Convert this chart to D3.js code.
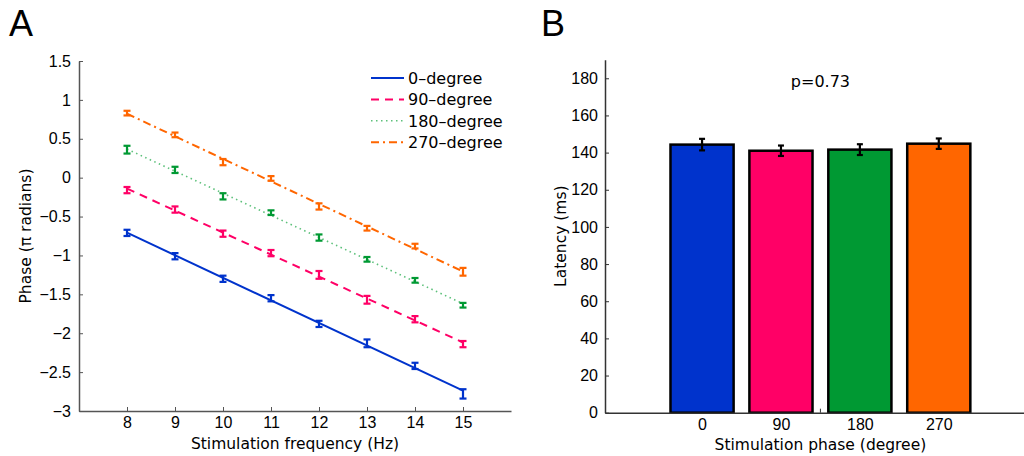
<!DOCTYPE html>
<html>
<head>
<meta charset="utf-8">
<script src="https://cdn.jsdelivr.net/npm/d3@7"></script>
<style>
  body { margin: 0; background: #fff; }
  text { fill: #000; }
</style>
</head>
<body>
<div id="chart-area"></div>
<script>
// panel A: phase vs stimulation frequency
var freqs = [8, 9, 10, 11, 12, 13, 14, 15];
var phase0 = [-0.71, -1.01, -1.30, -1.55, -1.88, -2.13, -2.42, -2.78];
var phase90 = [-0.16, -0.41, -0.72, -0.97, -1.25, -1.57, -1.82, -2.14];
var phase180 = [0.36, 0.10, -0.24, -0.45, -0.77, -1.05, -1.32, -1.64];
var phase270 = [0.83, 0.55, 0.20, -0.01, -0.37, -0.65, -0.88, -1.21];
var err0 = [0.04, 0.04, 0.04, 0.04, 0.04, 0.05, 0.04, 0.06];
var err90 = [0.04, 0.04, 0.04, 0.04, 0.05, 0.05, 0.04, 0.04];
var err180 = [0.05, 0.04, 0.04, 0.03, 0.04, 0.03, 0.03, 0.03];
var err270 = [0.03, 0.03, 0.04, 0.03, 0.04, 0.03, 0.03, 0.05];
var seriesNames = ["0\u2013degree", "90\u2013degree", "180\u2013degree", "270\u2013degree"];
var phaseTicks = [1.5, 1, 0.5, 0, -0.5, -1, -1.5, -2, -2.5, -3];

// panel B: latency per phase
var phaseCats = ["0", "90", "180", "270"];
var latency = [144.3, 141.0, 141.6, 144.8];
var latencyErr = [3.1, 2.8, 2.9, 2.8];
var latencyTicks = [0, 20, 40, 60, 80, 100, 120, 140, 160, 180];
var pText = "p=0.73";

var colors = ["#0033cc", "#ff0066", "#009933", "#ff6600"];
var lineColors = ["#0033cc", "#ff0066", "#5cc07a", "#ff6600"];
var dashes = [null, "8,6", "1.5,3.5", "8,4,2,4"];

var svg = d3.select("#chart-area").append("svg")
    .attr("width", 1024)
    .attr("height", 456);

var tickFont = "'Liberation Sans', Arial, sans-serif";
var labelFont = "'DejaVu Sans', sans-serif";

function styleAxis(g, col) {
    g.select(".domain").attr("stroke", col).attr("stroke-width", 1.5);
    g.selectAll(".tick line").attr("stroke", col).attr("stroke-width", 1);
    g.selectAll(".tick text")
        .attr("font-family", tickFont)
        .attr("font-size", 16)
        .attr("fill", "#000");
}

// ---------- panel A ----------
var xA = d3.scaleLinear().domain([7, 16]).range([79, 511]);
var yA = d3.scaleLinear().domain([-3, 1.5]).range([411, 61]);

var gxA = svg.append("g")
    .attr("transform", "translate(0," + yA(-3) + ")")
    .call(d3.axisBottom(xA).tickValues(freqs).tickSizeInner(-4).tickSizeOuter(0).tickPadding(6));
styleAxis(gxA, "#555");

var gyA = svg.append("g")
    .attr("transform", "translate(" + xA(7) + ",0)")
    .call(d3.axisLeft(yA).tickValues(phaseTicks).tickSizeInner(-4).tickSizeOuter(0).tickPadding(8)
        .tickFormat(function(d){ return d < 0 ? "\u2212" + Math.abs(d) : d; }));
styleAxis(gyA, "#555");

var series = [phase0, phase90, phase180, phase270];
var errs = [err0, err90, err180, err270];

// least squares fit line for each series
function fit(vals) {
    var mx = d3.mean(freqs), my = d3.mean(vals);
    var num = d3.sum(freqs, function(f, i){ return (f - mx) * (vals[i] - my); });
    var den = d3.sum(freqs, function(f){ return (f - mx) * (f - mx); });
    var b = num / den;
    return function(f){ return my + b * (f - mx); };
}

series.forEach(function(vals, s){
    var fn = fit(vals);
    var f0 = freqs[0], f1 = freqs[freqs.length - 1];
    svg.append("line")
        .attr("x1", xA(f0)).attr("y1", yA(fn(f0)))
        .attr("x2", xA(f1)).attr("y2", yA(fn(f1)))
        .attr("stroke", lineColors[s])
        .attr("stroke-width", s == 2 ? 1.6 : 2)
        .attr("stroke-dasharray", dashes[s]);

    var eb = svg.append("g").attr("stroke", colors[s]).attr("stroke-width", 2.2);
    vals.forEach(function(v, i){
        var x = xA(freqs[i]);
        var e = errs[s][i];
        eb.append("line").attr("x1", x).attr("x2", x).attr("y1", yA(v - e)).attr("y2", yA(v + e));
        eb.append("line").attr("x1", x - 3.5).attr("x2", x + 3.5).attr("y1", yA(v - e)).attr("y2", yA(v - e));
        eb.append("line").attr("x1", x - 3.5).attr("x2", x + 3.5).attr("y1", yA(v + e)).attr("y2", yA(v + e));
    });
});

// legend
var leg = svg.append("g").attr("transform", "translate(371,78)");
seriesNames.forEach(function(name, s){
    var y = s * 21.4;
    leg.append("line")
        .attr("x1", 0).attr("x2", 33).attr("y1", y).attr("y2", y)
        .attr("stroke", lineColors[s])
        .attr("stroke-width", s == 2 ? 1.6 : 2)
        .attr("stroke-dasharray", dashes[s]);
    leg.append("text")
        .attr("x", 37).attr("y", y)
        .attr("dy", "0.36em")
        .attr("font-family", labelFont)
        .attr("font-size", 16)
        .text(name);
});

svg.append("text")
    .attr("x", (xA(7) + xA(16)) / 2).attr("y", 449)
    .attr("text-anchor", "middle")
    .attr("font-family", labelFont).attr("font-size", 15.5)
    .text("Stimulation frequency (Hz)");

svg.append("text")
    .attr("transform", "translate(31," + (yA(1.5) + yA(-3)) / 2 + ") rotate(-90)")
    .attr("text-anchor", "middle")
    .attr("font-family", labelFont).attr("font-size", 15.5)
    .text("Phase (\u03c0 radians)");

svg.append("text")
    .attr("x", 9).attr("y", 36)
    .attr("font-family", "'Liberation Sans', Arial, sans-serif").attr("font-size", 36)
    .text("A");

// ---------- panel B ----------
var xB = d3.scaleLinear().domain([-0.23, 5.08]).range([605, 1024]);
var yB = d3.scaleLinear().domain([0, 190]).range([412.7, 59.7]);
var barW = 0.8;

var bars = svg.selectAll("rect.bar").data(latency);
bars.enter()
    .append("rect")
    .attr("class", "bar")
    .attr("x", function(d, i){ return xB(i + 1 - barW / 2); })
    .attr("width", xB(barW) - xB(0))
    .attr("y", function(d){ return yB(d); })
    .attr("height", function(d){ return yB(0) - yB(d); })
    .attr("fill", function(d, i){ return colors[i]; })
    .attr("stroke", "#000")
    .attr("stroke-width", 2.5);

var ebB = svg.append("g").attr("stroke", "#000").attr("stroke-width", 2.2);
latency.forEach(function(v, i){
    var x = xB(i + 1), e = latencyErr[i];
    ebB.append("line").attr("x1", x).attr("x2", x).attr("y1", yB(v - e)).attr("y2", yB(v + e));
    ebB.append("line").attr("x1", x - 3).attr("x2", x + 3).attr("y1", yB(v - e)).attr("y2", yB(v - e));
    ebB.append("line").attr("x1", x - 3).attr("x2", x + 3).attr("y1", yB(v + e)).attr("y2", yB(v + e));
});

var gxB = svg.append("g")
    .attr("transform", "translate(0," + yB(0) + ")")
    .call(d3.axisBottom(xB).tickValues([1, 2, 3, 4]).tickSizeInner(0).tickSizeOuter(0).tickPadding(6)
        .tickFormat(function(d){ return phaseCats[d - 1]; }));
styleAxis(gxB, "#333");
// stray tick between the middle bars
svg.append("line")
    .attr("x1", xB(2.5)).attr("x2", xB(2.5))
    .attr("y1", yB(0)).attr("y2", yB(0) - 4)
    .attr("stroke", "#333");

var gyB = svg.append("g")
    .attr("transform", "translate(" + xB(-0.23) + ",0)")
    .call(d3.axisLeft(yB).tickValues(latencyTicks).tickSizeInner(-4).tickSizeOuter(0).tickPadding(7));
styleAxis(gyB, "#333");

svg.append("text")
    .attr("x", xB(2.5)).attr("y", 87)
    .attr("text-anchor", "middle")
    .attr("font-family", labelFont).attr("font-size", 16)
    .text(pText);

svg.append("text")
    .attr("x", xB(2.5)).attr("y", 450)
    .attr("text-anchor", "middle")
    .attr("font-family", labelFont).attr("font-size", 15.5)
    .text("Stimulation phase (degree)");

svg.append("text")
    .attr("transform", "translate(566," + (yB(0) + yB(190)) / 2 + ") rotate(-90)")
    .attr("text-anchor", "middle")
    .attr("font-family", labelFont).attr("font-size", 15.5)
    .text("Latency (ms)");

svg.append("text")
    .attr("x", 541).attr("y", 36)
    .attr("font-family", "'Liberation Sans', Arial, sans-serif").attr("font-size", 36)
    .text("B");
</script>
</body>
</html>
